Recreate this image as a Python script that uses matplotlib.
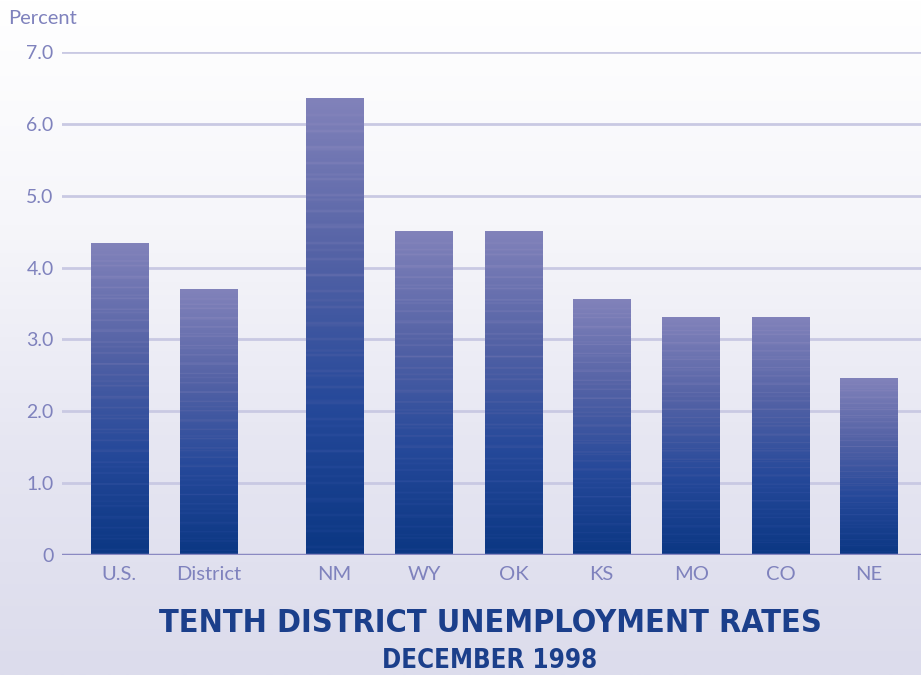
import matplotlib.pyplot as plt
import numpy as np
from matplotlib.colors import LinearSegmentedColormap

# ------------------------------
# Data
# ------------------------------
states = ['U.S.', 'District', 'NM', 'WY', 'OK', 'KS', 'MO', 'CO', 'NE']
rates = [4.33, 3.7, 6.35, 4.5, 4.5, 3.56, 3.31, 3.31, 2.46]
positions = [0, 1, 2.4, 3.4, 4.4, 5.38, 6.38, 7.38, 8.36]
yticks = [0, 1, 2, 3, 4, 5, 6, 7]
ytick_labels = ['0', '1.0', '2.0', '3.0', '4.0', '5.0', '6.0', '7.0']

label_color = '#7f82bd'
title_color = '#1b3f8b'
font = ['Lato', 'DejaVu Sans']

fig = plt.figure(figsize=(9.21, 6.75), dpi=100)

# background gradient
bg = fig.add_axes([0, 0, 1, 1], zorder=0)
bg_cmap = LinearSegmentedColormap.from_list('bg', ['#ffffff', '#f6f6fa', '#e6e6f2', '#dcdcec'])
grad = np.linspace(0, 1, 256).reshape(-1, 1)
bg.imshow(grad, aspect='auto', cmap=bg_cmap, extent=[0, 1, 0, 1], origin='upper')
bg.axis('off')

ax = fig.add_axes([62 / 921, 120 / 675, 1 - 62 / 921, 503 / 675], zorder=1)
ax.patch.set_alpha(0)

bar_cmap = LinearSegmentedColormap.from_list('bar', ['#0b3783', '#26499a', '#5563a6', '#8182ba'])
width = 0.64
for x, v in zip(positions, rates):
    n = 200
    g = np.linspace(1, 0, n)
    # light horizontal stripes
    stripes = (np.arange(n) % 7 == 0) * 0.08 + (np.arange(n) % 11 == 0) * 0.05
    img = np.clip(g + stripes, 0, 1).reshape(-1, 1)
    ax.imshow(img, aspect='auto', cmap=bar_cmap, vmin=0, vmax=1,
              extent=[x - width / 2, x + width / 2, 0, v], origin='upper', zorder=3)

for t in yticks[1:]:
    ax.axhline(t, color='#c9c9e3', lw=2, zorder=2)
ax.axhline(0, color='#8b89c2', lw=2.5, zorder=4)

ax.set_xlim(-0.64, 8.945)
ax.set_ylim(0, 7.0)
ax.set_yticks(yticks)
ax.set_yticklabels(ytick_labels)
ax.set_xticks(positions)
ax.set_xticklabels(states)
ax.tick_params(length=0, labelcolor=label_color)
ax.tick_params(axis='y', pad=6, labelsize=14)
ax.tick_params(axis='x', pad=8, labelsize=14.5)
for lab in ax.get_xticklabels() + ax.get_yticklabels():
    lab.set_family(font)
for s in ax.spines.values():
    s.set_visible(False)

fig.text(8 / 921, 1 - 18 / 675, 'Percent', color=label_color, fontsize=14.5,
         family=font, ha='left', va='center')

fig.text(490 / 921, 1 - 624 / 675, 'TENTH DISTRICT UNEMPLOYMENT RATES', color=title_color,
         fontsize=23.2, fontweight='bold', fontstretch='condensed', family='DejaVu Sans',
         ha='center', va='center')
fig.text(490 / 921, 1 - 661 / 675, 'DECEMBER 1998', color=title_color,
         fontsize=18.5, fontweight='bold', fontstretch='condensed', family='DejaVu Sans',
         ha='center', va='center')

fig.savefig('out.png', dpi=100)
